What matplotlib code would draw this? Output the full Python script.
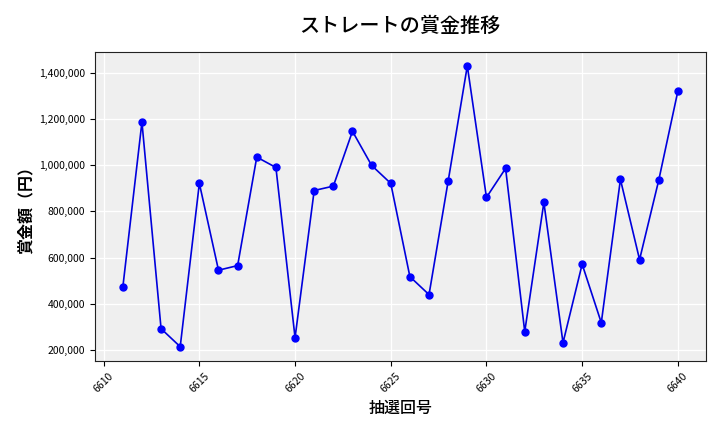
import matplotlib
matplotlib.use("Agg")
import matplotlib.pyplot as plt
from matplotlib.ticker import FuncFormatter

plt.rcParams['font.family'] = ['Noto Sans CJK JP', 'DejaVu Sans']

draws = list(range(6611, 6641))
prize = [470000, 1188000, 291000, 213000, 922000, 545000, 565000, 1036000,
         991000, 252000, 891000, 910000, 1148000, 1000000, 922000, 517000,
         439000, 932000, 1432000, 861000, 987000, 278000, 839000, 230000,
         571000, 317000, 939000, 591000, 935000, 1322000]

fig, ax = plt.subplots(figsize=(7.2, 4.32), dpi=100)
ax.set_facecolor('#efefef')
ax.grid(True, color='white', linewidth=0.9)
ax.set_axisbelow(True)

ax.plot(draws, prize, color='#0000dd', linewidth=1.2, marker='o',
        markersize=5, markerfacecolor='blue', markeredgecolor='blue')

ax.yaxis.set_major_formatter(FuncFormatter(lambda v, p: f'{int(v):,}'))
ax.tick_params(axis='both', labelsize=7.5)
plt.setp(ax.get_xticklabels(), rotation=45)

for s in ax.spines.values():
    s.set_color('#222222')

ax.set_title('ストレートの賞金推移', fontsize=14.5, fontweight='medium', pad=14)
ax.set_xlabel('抽選回号', fontsize=11.5, fontweight='medium')
ax.set_ylabel('賞金額（円）', fontsize=11.5, fontweight='bold')

fig.subplots_adjust(left=0.132, right=0.98, top=0.88, bottom=0.165)
fig.savefig('out.png')
